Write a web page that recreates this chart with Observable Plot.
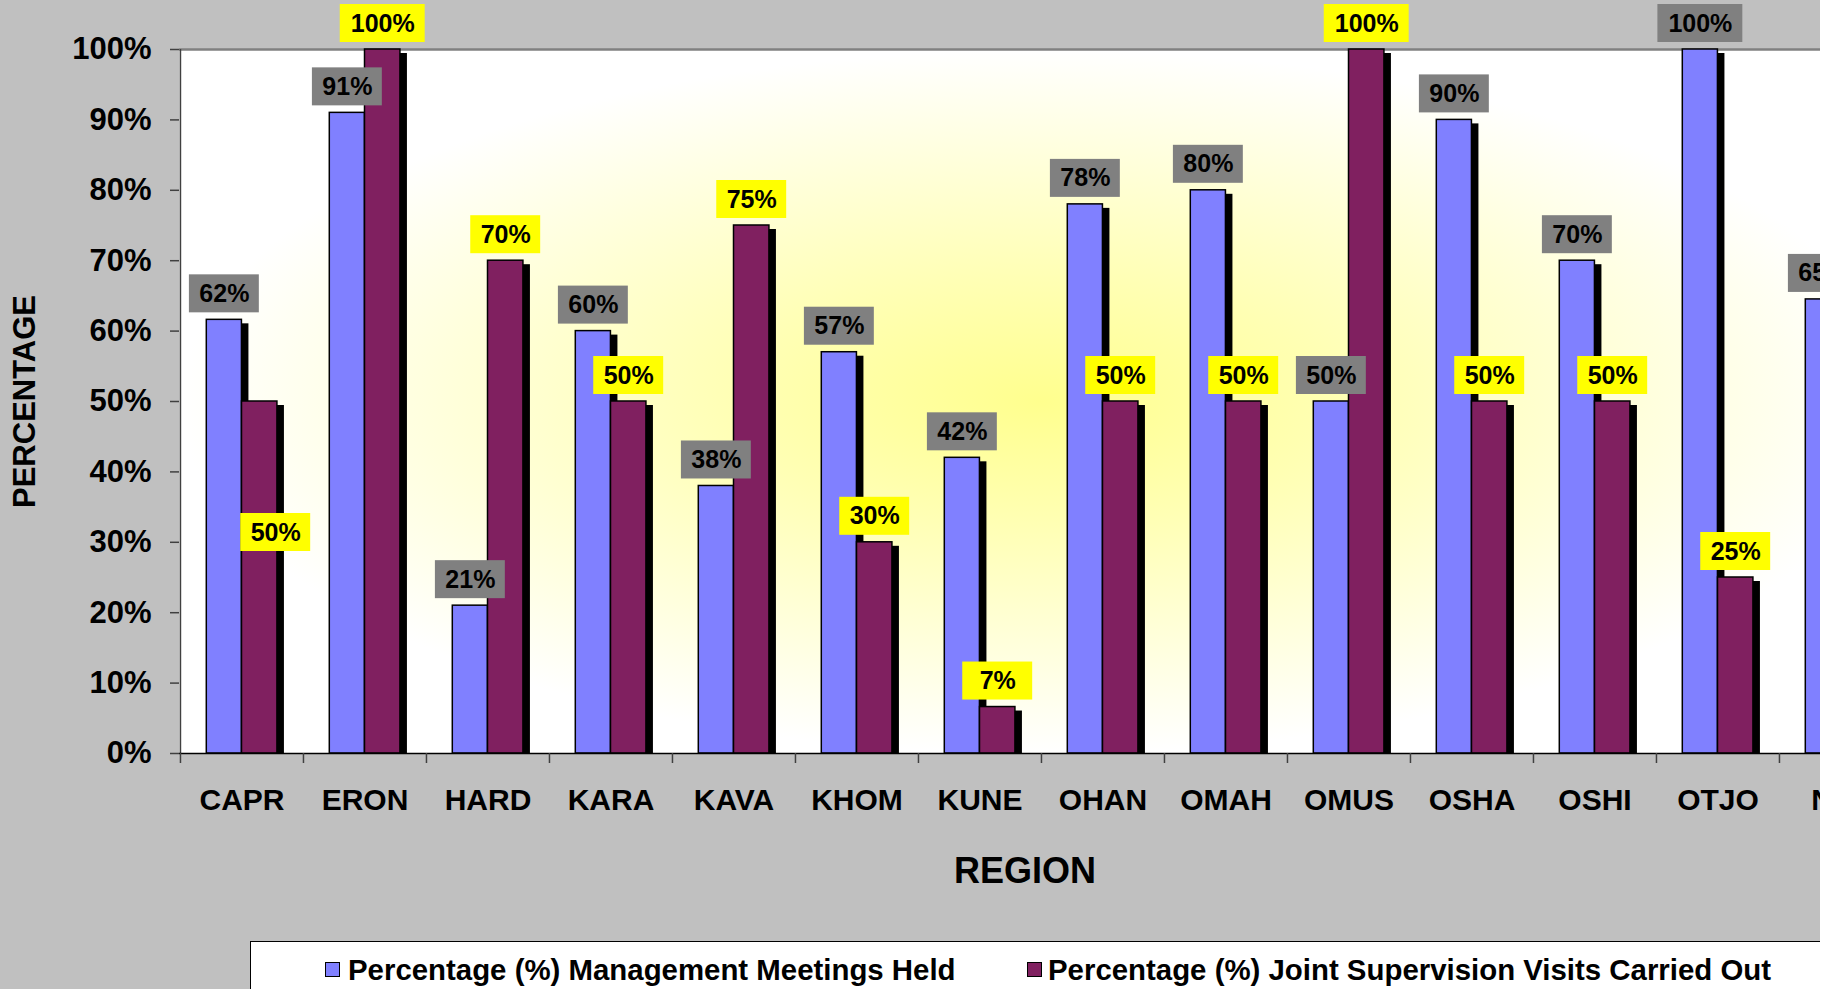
<!DOCTYPE html>
<html>
<head>
<meta charset="utf-8">
<script src="https://cdn.jsdelivr.net/npm/d3@7"></script>
<script src="https://cdn.jsdelivr.net/npm/@observablehq/plot@0.6"></script>
<style>
  html, body { margin: 0; padding: 0; background: #ffffff; overflow: hidden; }
  #wrap { position: relative; width: 1820px; height: 989px; overflow: hidden; background: #c0c0c0;
          font-family: "Liberation Sans", Arial, sans-serif; }
  #chart { position: absolute; left: 0; top: 0; width: 1903px; }
  #chart svg { max-width: none !important; }
  #legend { position: absolute; left: 250px; top: 941px; width: 1600px; height: 80px; background: #ffffff;
            border-top: 1.5px solid #000; border-left: 1.5px solid #000; }
  .sw { position: absolute; top: 20px; width: 13px; height: 13px; border: 1.5px solid #000; }
  .lt { position: absolute; top: 13px; font-size: 29.4px; font-weight: bold; line-height: 29px; white-space: nowrap; color: #000; }
</style>
</head>
<body>
<div id="wrap">
  <div id="chart"></div>
  <div id="legend"></div>
</div>
<script>
// ---- data ----
const regions = ["CAPR","ERON","HARD","KARA","KAVA","KHOM","KUNE","OHAN","OMAH","OMUS","OSHA","OSHI","OTJO","NAT"];
const meetings = [61.6, 91, 21, 60, 38, 57, 42, 78, 80, 50, 90, 70, 100, 64.5];
const visits   = [50, 100, 70, 50, 75, 30, 6.6, 50, 50, 100, 50, 50, 25, null];
const yTicks = [0, 10, 20, 30, 40, 50, 60, 70, 80, 90, 100];
const seriesNames = ["Percentage (%) Management Meetings Held", "Percentage (%) Joint Supervision Visits Carried Out"];
const seriesColors = ["#8080ff", "#802060"];
const xTitle = "REGION";
const yTitle = "PERCENTAGE";

// ---- layout ----
const W = 1903, H = 942, ML = 179, MR = 1, MT = 49, MB = 189;
const bw = (W - ML - MR) / regions.length;
const blueL = 26.3, mid = 61.5, purpleR = 97;
const FONT = '"Liberation Sans", Arial, sans-serif';

const rowsM = regions.map((r, i) => ({region: r, value: meetings[i], key: r + "|meetings"}))
  .filter(d => d.value != null).map(d => ({...d, label: Math.round(d.value) + "%"}));
const rowsV = regions.map((r, i) => ({region: r, value: visits[i], key: r + "|visits"}))
  .filter(d => d.value != null).map(d => ({...d, label: Math.round(d.value) + "%"}));

const labelShift = {"CAPR|visits": {dx: 16, dy: 157}};
const LABEL_H = 38, LABEL_GAP = 7;

function labelFor(row, centerOff, fill) {
  const s = labelShift[row.key] || {dx: 0, dy: 0};
  const w = row.label.length > 3 ? 85 : 70;
  return [
    Plot.barY([row], {x: "region", y1: "value", y2: "value",
      insetTop: -(LABEL_GAP + LABEL_H), insetBottom: LABEL_GAP,
      insetLeft: centerOff - w / 2, insetRight: bw - centerOff - w / 2,
      fill, dx: s.dx, dy: s.dy}),
    Plot.text([row], {x: "region", y: "value", text: "label",
      dx: centerOff - bw / 2 + s.dx, dy: -(LABEL_GAP + LABEL_H / 2) + s.dy,
      fontSize: 25, fontWeight: "bold", fill: "#000", lineAnchor: "middle"})
  ];
}

function barsFor(rows, il, ir, color) {
  return [
    Plot.barY(rows, {x: "region", y: "value", insetLeft: il, insetRight: ir,
      fill: "#000", dx: 7, dy: 4, insetBottom: 4}),
    Plot.barY(rows, {x: "region", y: "value", insetLeft: il, insetRight: ir,
      fill: color, stroke: "#000", strokeWidth: 1.5})
  ];
}

const svg = Plot.plot({
  width: W, height: H,
  marginLeft: ML, marginRight: MR, marginTop: MT, marginBottom: MB,
  style: {background: "transparent", fontFamily: FONT, color: "#000", overflow: "visible", maxWidth: "none"},
  x: {type: "band", domain: regions, padding: 0, axis: null},
  y: {domain: [0, 100], axis: null},
  marks: [
    Plot.frame({fill: "url(#bgGrad)", stroke: null}),
    Plot.ruleY([100], {stroke: "#808080", strokeWidth: 2.5}),
    ...barsFor(rowsM, blueL, bw - mid, seriesColors[0]),
    ...barsFor(rowsV, mid, bw - purpleR, seriesColors[1]),
    Plot.ruleX([regions[0]], {x: d => d, dx: -bw / 2, stroke: "#404040", strokeWidth: 1.5}),
    Plot.ruleY([0], {stroke: "#000", strokeWidth: 1.5}),
    Plot.ruleX(regions, {x: d => d, dx: -bw / 2, insetTop: (H - MB - MT), insetBottom: -10, stroke: "#404040", strokeWidth: 1.5}),
    Plot.axisY({ticks: yTicks, tickFormat: d => d + "%", tickSize: 9, tickPadding: 19,
      fontSize: 31, fontWeight: "bold", label: null, stroke: "#404040", strokeWidth: 1.5}),
    Plot.axisX({tickSize: 0, tickPadding: 35, fontSize: 30, fontWeight: "bold", label: null}),
    ...rowsM.flatMap(r => labelFor(r, (blueL + mid) / 2, "#808080")),
    ...rowsV.flatMap(r => labelFor(r, (mid + purpleR) / 2, "#ffff00")),
    Plot.text([xTitle], {frameAnchor: "bottom", text: d => d, dx: -16, dy: 118,
      fontSize: 36, fontWeight: "bold", lineAnchor: "middle", textAnchor: "middle"}),
    Plot.text([yTitle], {frameAnchor: "left", text: d => d, dx: -154, rotate: -90,
      fontSize: 31, fontWeight: "bold", lineAnchor: "middle", textAnchor: "middle"})
  ]
});

svg.style.maxWidth = "none";
svg.setAttribute("width", W);
svg.setAttribute("height", H);
const ns = "http://www.w3.org/2000/svg";
const defs = document.createElementNS(ns, "defs");
defs.innerHTML = '<radialGradient id="bgGrad" cx="0.5" cy="0.5" r="0.5">' +
  '<stop offset="0" stop-color="#ffff8e"/><stop offset="0.35" stop-color="#ffffb4"/><stop offset="1" stop-color="#ffffff"/></radialGradient>';
svg.insertBefore(defs, svg.firstChild);
document.getElementById("chart").appendChild(svg);

// ---- legend ----
const legend = document.getElementById("legend");
const legendPos = [{sw: 74, tx: 97}, {sw: 776, tx: 797}];
seriesNames.forEach((name, i) => {
  const sw = document.createElement("div");
  sw.className = "sw";
  sw.style.left = legendPos[i].sw + "px";
  sw.style.background = seriesColors[i];
  legend.appendChild(sw);
  const t = document.createElement("div");
  t.className = "lt";
  t.style.left = legendPos[i].tx + "px";
  t.textContent = name;
  legend.appendChild(t);
});
</script>
</body>
</html>
